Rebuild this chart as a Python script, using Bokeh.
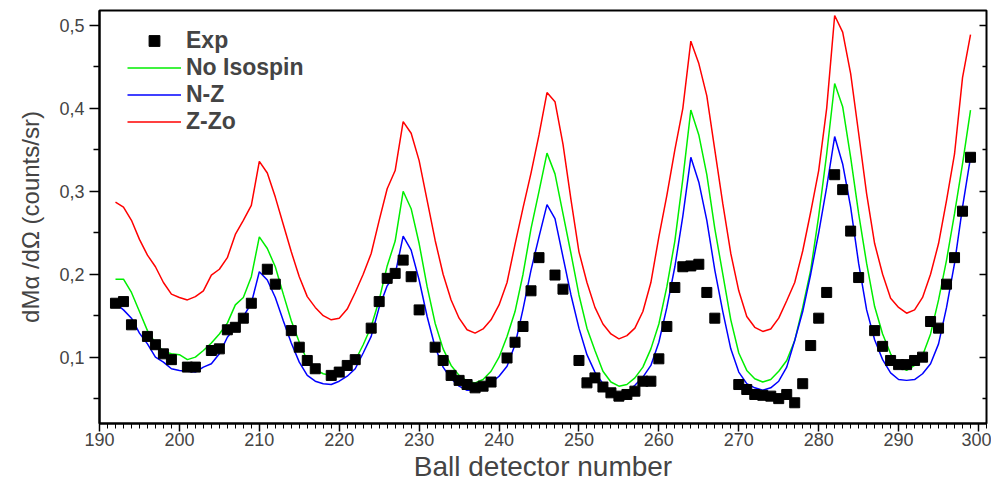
from bokeh.plotting import figure
from bokeh.models import (Legend, LegendItem, LinearAxis, FixedTicker,
                          SingleIntervalTicker, CustomJSTickFormatter)
from bokeh.embed import file_html
from bokeh.resources import INLINE

# ---- data ----
det = list(range(192, 300))

z_zo = [0.287, 0.281, 0.265, 0.242, 0.223, 0.209, 0.190, 0.176, 0.172, 0.169,
        0.173, 0.180, 0.199, 0.206, 0.220, 0.248, 0.265, 0.283, 0.336, 0.322,
        0.293, 0.260, 0.227, 0.197, 0.173, 0.160, 0.150, 0.145, 0.147, 0.158,
        0.178, 0.200, 0.225, 0.265, 0.303, 0.325, 0.384, 0.370, 0.337, 0.289,
        0.241, 0.200, 0.169, 0.147, 0.133, 0.129, 0.134, 0.145, 0.163, 0.190,
        0.236, 0.280, 0.322, 0.368, 0.419, 0.408, 0.357, 0.290, 0.227, 0.190,
        0.160, 0.140, 0.128, 0.122, 0.126, 0.135, 0.155, 0.190, 0.245, 0.295,
        0.350, 0.400, 0.481, 0.454, 0.415, 0.350, 0.285, 0.225, 0.180, 0.149,
        0.136, 0.131, 0.134, 0.147, 0.168, 0.190, 0.228, 0.275, 0.325, 0.400,
        0.512, 0.492, 0.442, 0.370, 0.297, 0.237, 0.200, 0.171, 0.160, 0.153,
        0.157, 0.172, 0.200, 0.237, 0.289, 0.345, 0.437, 0.489]

no_isospin = [0.194, 0.194, 0.178, 0.155, 0.132, 0.117, 0.107, 0.104, 0.103, 0.097,
              0.100, 0.108, 0.117, 0.128, 0.141, 0.163, 0.172, 0.197, 0.245, 0.231,
              0.209, 0.176, 0.144, 0.118, 0.096, 0.085, 0.080, 0.078, 0.080, 0.087,
              0.096, 0.115, 0.137, 0.169, 0.210, 0.240, 0.300, 0.279, 0.237, 0.185,
              0.141, 0.110, 0.090, 0.078, 0.071, 0.069, 0.073, 0.083, 0.100, 0.125,
              0.155, 0.200, 0.255, 0.300, 0.346, 0.321, 0.273, 0.225, 0.175, 0.135,
              0.108, 0.083, 0.070, 0.065, 0.067, 0.075, 0.088, 0.110, 0.140, 0.185,
              0.240, 0.315, 0.398, 0.368, 0.320, 0.255, 0.200, 0.145, 0.105, 0.084,
              0.074, 0.070, 0.073, 0.083, 0.096, 0.120, 0.160, 0.205, 0.270, 0.345,
              0.430, 0.402, 0.341, 0.273, 0.213, 0.161, 0.128, 0.104, 0.089, 0.084,
              0.090, 0.102, 0.128, 0.169, 0.217, 0.273, 0.333, 0.398]

n_z = [0.165, 0.157, 0.147, 0.129, 0.116, 0.100, 0.094, 0.086, 0.084, 0.083,
       0.082, 0.088, 0.092, 0.104, 0.124, 0.136, 0.149, 0.165, 0.203, 0.193,
       0.172, 0.144, 0.117, 0.094, 0.078, 0.071, 0.068, 0.067, 0.071, 0.077,
       0.086, 0.105, 0.125, 0.160, 0.186, 0.200, 0.246, 0.229, 0.193, 0.149,
       0.112, 0.088, 0.074, 0.065, 0.060, 0.060, 0.064, 0.069, 0.077, 0.089,
       0.115, 0.158, 0.205, 0.245, 0.284, 0.267, 0.221, 0.175, 0.135, 0.103,
       0.082, 0.068, 0.059, 0.056, 0.058, 0.066, 0.076, 0.090, 0.118, 0.160,
       0.209, 0.270, 0.341, 0.311, 0.265, 0.205, 0.155, 0.110, 0.082, 0.068,
       0.063, 0.060, 0.063, 0.071, 0.088, 0.120, 0.155, 0.200, 0.250, 0.305,
       0.366, 0.333, 0.281, 0.213, 0.157, 0.121, 0.097, 0.081, 0.073, 0.072,
       0.073, 0.080, 0.092, 0.116, 0.160, 0.213, 0.281, 0.341]

exp_det = [192, 193, 194, 196, 197, 198, 199, 201, 202, 204, 205, 206, 207, 208, 209,
           211, 212, 214, 215, 216, 217, 219, 220, 221, 222, 224, 225, 226, 227, 228,
           229, 230, 232, 233, 234, 235, 236, 237, 238, 239, 241, 242, 243, 244, 245,
           247, 248, 250, 251, 252, 253, 254, 255, 256, 257, 258, 259, 260, 261, 262,
           263, 264, 265, 266, 267, 270, 271, 272, 273, 274, 275, 276, 277, 278, 279,
           280, 281, 282, 283, 284, 285, 287, 288, 289, 290, 291, 292, 293, 294, 295,
           296, 297, 298, 299]
exp_val = [0.165, 0.167, 0.139, 0.125, 0.115, 0.104, 0.097, 0.088, 0.088, 0.108,
           0.110, 0.133, 0.136, 0.147, 0.165, 0.206, 0.188, 0.132, 0.112, 0.096,
           0.086, 0.078, 0.082, 0.090, 0.097, 0.135, 0.167, 0.195, 0.201, 0.217,
           0.197, 0.157, 0.112, 0.096, 0.078, 0.072, 0.067, 0.063, 0.065, 0.070,
           0.099, 0.118, 0.137, 0.180, 0.220, 0.199, 0.182, 0.096, 0.069, 0.075,
           0.064, 0.057, 0.053, 0.055, 0.059, 0.071, 0.071, 0.098, 0.137, 0.184,
           0.209, 0.210, 0.212, 0.178, 0.147, 0.067, 0.061, 0.055, 0.054, 0.053,
           0.050, 0.055, 0.045, 0.068, 0.114, 0.147, 0.178, 0.320, 0.302, 0.252,
           0.196, 0.132, 0.113, 0.096, 0.091, 0.091, 0.096, 0.100, 0.143, 0.135,
           0.188, 0.220, 0.276, 0.341]

y_ticks = [0.1, 0.2, 0.3, 0.4, 0.5]
y_minor = [0.05, 0.15, 0.25, 0.35, 0.45]

FONT = "Liberation Sans"

p = figure(width=991, height=490, x_range=(190, 301), y_range=(0.02, 0.518),
           output_backend="svg", toolbar_location=None,
           min_border_left=99, min_border_right=5, min_border_top=10,
           min_border_bottom=67)
p.grid.visible = False
p.outline_line_color = "black"
p.outline_line_width = 2
p.background_fill_color = "white"

r_red = p.line(det, z_zo, line_color="#ff0000", line_width=1.5)
r_green = p.line(det, no_isospin, line_color="#00ee00", line_width=1.5)
r_blue = p.line(det, n_z, line_color="#0000ff", line_width=1.5)
r_exp = p.scatter(exp_det, exp_val, marker="square", size=10,
                  fill_color="black", line_color="black")

# x axis
xa = p.xaxis[0]
xa.ticker = SingleIntervalTicker(interval=10, num_minor_ticks=10)
xa.axis_label = "Ball detector number"
xa.axis_label_text_font = FONT
xa.axis_label_text_font_style = "normal"
xa.axis_label_text_font_size = "28px"
xa.axis_label_standoff = 2
xa.major_label_text_font = FONT
xa.major_label_text_font_size = "18px"
xa.major_label_standoff = 1
xa.axis_line_width = 2
xa.major_tick_in = 0
xa.major_tick_out = 8
xa.minor_tick_in = 0
xa.minor_tick_out = 5
xa.major_tick_line_width = 1.5
xa.minor_tick_line_width = 1

# y axis
ya = p.yaxis[0]
ya.ticker = FixedTicker(ticks=y_ticks, minor_ticks=y_minor)
ya.formatter = CustomJSTickFormatter(code="return tick.toFixed(1).replace('.', ',');")
ya.axis_label = "dM\u03b1 /d\u03a9 (counts/sr)"
ya.axis_label_text_font = FONT
ya.axis_label_text_font_style = "normal"
ya.axis_label_text_font_size = "24px"
ya.axis_label_standoff = 12
ya.major_label_text_font = FONT
ya.major_label_text_font_size = "18px"
ya.major_label_standoff = 5
ya.axis_line_width = 2
ya.major_tick_in = 0
ya.major_tick_out = 10
ya.minor_tick_in = 0
ya.minor_tick_out = 6
ya.major_tick_line_width = 1.5
ya.minor_tick_line_width = 1.5

# right axis (inward ticks only, no labels)
ra = LinearAxis(ticker=FixedTicker(ticks=y_ticks, minor_ticks=y_minor),
                formatter=CustomJSTickFormatter(code="return '';"),
                axis_line_color=None,
                major_tick_in=7, major_tick_out=0, minor_tick_in=4, minor_tick_out=0,
                major_tick_line_width=1.5, minor_tick_line_width=1.5,
                major_label_standoff=0)
p.add_layout(ra, "right")

legend = Legend(items=[
    LegendItem(label="Exp", renderers=[r_exp]),
    LegendItem(label="No Isospin", renderers=[r_green]),
    LegendItem(label="N-Z", renderers=[r_blue]),
    LegendItem(label="Z-Zo", renderers=[r_red]),
], location=(28, 288))
legend.margin = 0
legend.padding = 0
legend.spacing = 0
legend.border_line_color = None
legend.background_fill_alpha = 0
legend.glyph_width = 54
legend.glyph_height = 27
legend.label_height = 27
legend.label_standoff = 5
legend.label_text_font = FONT
legend.label_text_font_style = "bold"
legend.label_text_font_size = "23px"
p.add_layout(legend, "center")

open("out.html", "w").write(file_html(p, INLINE))
